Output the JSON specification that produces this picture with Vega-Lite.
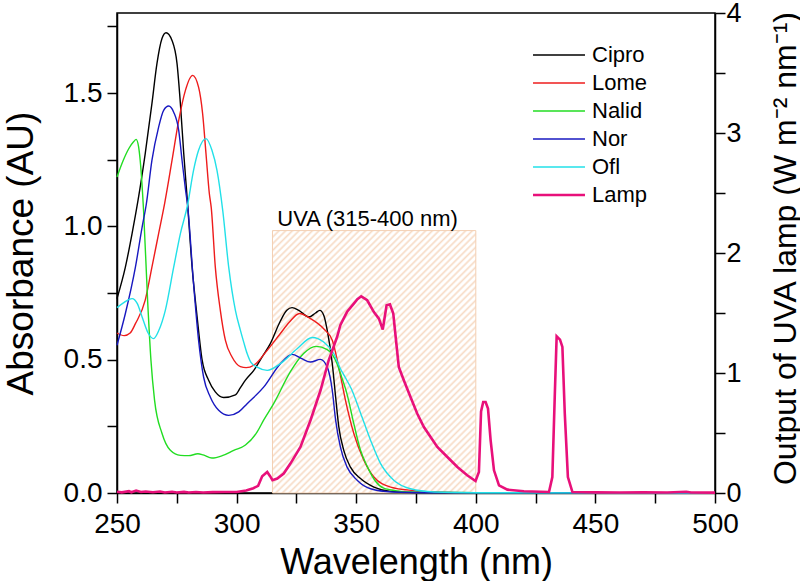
{
  "$schema": "https://vega.github.io/schema/vega-lite/v6.json",
  "width": 598,
  "height": 480,
  "autosize": {"type": "none"},
  "padding": {"left": 117, "top": 13, "right": 85, "bottom": 88},
  "config": {
    "font": "Liberation Sans",
    "view": {"stroke": "#000", "strokeWidth": 1.5},
    "axis": {
      "grid": false, "labelFont": "Liberation Sans", "titleFont": "Liberation Sans",
      "labelColor": "#000", "titleColor": "#000", "domainColor": "#000", "tickColor": "#000",
      "domainWidth": 1.5, "tickWidth": 1.5, "titleFontWeight": "normal",
      "labelFlush": false, "labelOverlap": false, "labelBound": false
    },
    "legend": {"labelFont": "Liberation Sans", "labelColor": "#000"}
  },
  "datasets": {
    "uva": [{"w": 315, "w2": 400, "v": 0, "v2": 0.984}],
    "lab": [{"w": 317, "v": 1.0, "t": "UVA (315-400 nm)"}],
    "abs": [
      {"s":"Cipro","w":250,"v":0.729},{"s":"Cipro","w":253.5,"v":0.847},{"s":"Cipro","w":256.3,"v":0.973},{"s":"Cipro","w":258.8,"v":1.098},{"s":"Cipro","w":261.8,"v":1.273},{"s":"Cipro","w":264.6,"v":1.46},{"s":"Cipro","w":266.7,"v":1.61},{"s":"Cipro","w":268.8,"v":1.704},{"s":"Cipro","w":270.5,"v":1.726},{"s":"Cipro","w":273,"v":1.697},{"s":"Cipro","w":275.1,"v":1.61},{"s":"Cipro","w":276.5,"v":1.46},{"s":"Cipro","w":277.9,"v":1.273},{"s":"Cipro","w":279.3,"v":1.11},{"s":"Cipro","w":281.4,"v":0.847},{"s":"Cipro","w":283.5,"v":0.66},{"s":"Cipro","w":285.6,"v":0.498},{"s":"Cipro","w":288.3,"v":0.423},{"s":"Cipro","w":291.1,"v":0.379},{"s":"Cipro","w":294.6,"v":0.358},{"s":"Cipro","w":299.5,"v":0.368},{"s":"Cipro","w":301.6,"v":0.395},{"s":"Cipro","w":303.7,"v":0.423},{"s":"Cipro","w":307.2,"v":0.46},{"s":"Cipro","w":311,"v":0.515},{"s":"Cipro","w":314.1,"v":0.56},{"s":"Cipro","w":318.3,"v":0.645},{"s":"Cipro","w":321,"v":0.685},{"s":"Cipro","w":323.2,"v":0.695},{"s":"Cipro","w":326,"v":0.685},{"s":"Cipro","w":330.2,"v":0.66},{"s":"Cipro","w":333,"v":0.675},{"s":"Cipro","w":334.8,"v":0.685},{"s":"Cipro","w":336.5,"v":0.665},{"s":"Cipro","w":337.9,"v":0.61},{"s":"Cipro","w":340,"v":0.485},{"s":"Cipro","w":341.4,"v":0.36},{"s":"Cipro","w":342.7,"v":0.25},{"s":"Cipro","w":344.8,"v":0.16},{"s":"Cipro","w":347.6,"v":0.097},{"s":"Cipro","w":351.8,"v":0.054},{"s":"Cipro","w":357.4,"v":0.022},{"s":"Cipro","w":364.4,"v":0.006},{"s":"Cipro","w":375,"v":0.002},{"s":"Cipro","w":400,"v":0.001},{"s":"Cipro","w":500,"v":0.0},
      {"s":"Lome","w":250,"v":0.6},{"s":"Lome","w":253,"v":0.59},{"s":"Lome","w":255.5,"v":0.6},{"s":"Lome","w":257.7,"v":0.635},{"s":"Lome","w":261.8,"v":0.723},{"s":"Lome","w":264.6,"v":0.847},{"s":"Lome","w":267.4,"v":0.973},{"s":"Lome","w":270,"v":1.09},{"s":"Lome","w":273,"v":1.247},{"s":"Lome","w":275.8,"v":1.397},{"s":"Lome","w":278.6,"v":1.51},{"s":"Lome","w":281.6,"v":1.566},{"s":"Lome","w":284.1,"v":1.522},{"s":"Lome","w":285.8,"v":1.422},{"s":"Lome","w":287.2,"v":1.273},{"s":"Lome","w":288.6,"v":1.123},{"s":"Lome","w":289.4,"v":1.07},{"s":"Lome","w":291.1,"v":0.847},{"s":"Lome","w":293.2,"v":0.685},{"s":"Lome","w":295.3,"v":0.573},{"s":"Lome","w":298.1,"v":0.51},{"s":"Lome","w":301.6,"v":0.474},{"s":"Lome","w":304,"v":0.47},{"s":"Lome","w":307.2,"v":0.479},{"s":"Lome","w":312.8,"v":0.535},{"s":"Lome","w":318.3,"v":0.598},{"s":"Lome","w":322,"v":0.64},{"s":"Lome","w":326.3,"v":0.673},{"s":"Lome","w":330.9,"v":0.654},{"s":"Lome","w":336.4,"v":0.616},{"s":"Lome","w":340,"v":0.573},{"s":"Lome","w":342.7,"v":0.472},{"s":"Lome","w":345.5,"v":0.348},{"s":"Lome","w":349,"v":0.223},{"s":"Lome","w":353.2,"v":0.123},{"s":"Lome","w":357.4,"v":0.06},{"s":"Lome","w":364.4,"v":0.022},{"s":"Lome","w":374,"v":0.009},{"s":"Lome","w":385,"v":0.003},{"s":"Lome","w":400,"v":0.001},{"s":"Lome","w":500,"v":0.0},
      {"s":"Nalid","w":250,"v":1.185},{"s":"Nalid","w":252.5,"v":1.245},{"s":"Nalid","w":254.9,"v":1.291},{"s":"Nalid","w":257,"v":1.318},{"s":"Nalid","w":258,"v":1.326},{"s":"Nalid","w":259,"v":1.3},{"s":"Nalid","w":259.7,"v":1.247},{"s":"Nalid","w":261.1,"v":1.06},{"s":"Nalid","w":262.8,"v":0.722},{"s":"Nalid","w":264.2,"v":0.497},{"s":"Nalid","w":265.7,"v":0.348},{"s":"Nalid","w":268.8,"v":0.224},{"s":"Nalid","w":272.3,"v":0.16},{"s":"Nalid","w":276.5,"v":0.141},{"s":"Nalid","w":280,"v":0.14},{"s":"Nalid","w":283.8,"v":0.147},{"s":"Nalid","w":286,"v":0.143},{"s":"Nalid","w":289.7,"v":0.131},{"s":"Nalid","w":294,"v":0.14},{"s":"Nalid","w":298.8,"v":0.16},{"s":"Nalid","w":303.7,"v":0.18},{"s":"Nalid","w":308.6,"v":0.229},{"s":"Nalid","w":311.3,"v":0.273},{"s":"Nalid","w":315.5,"v":0.335},{"s":"Nalid","w":322.5,"v":0.455},{"s":"Nalid","w":328,"v":0.523},{"s":"Nalid","w":333.2,"v":0.55},{"s":"Nalid","w":337.9,"v":0.538},{"s":"Nalid","w":342,"v":0.485},{"s":"Nalid","w":343.4,"v":0.448},{"s":"Nalid","w":346.2,"v":0.37},{"s":"Nalid","w":349,"v":0.26},{"s":"Nalid","w":351.8,"v":0.16},{"s":"Nalid","w":354.6,"v":0.1},{"s":"Nalid","w":358,"v":0.045},{"s":"Nalid","w":361.5,"v":0.018},{"s":"Nalid","w":367,"v":0.008},{"s":"Nalid","w":375,"v":0.003},{"s":"Nalid","w":400,"v":0.001},{"s":"Nalid","w":500,"v":0.0},
      {"s":"Nor","w":250,"v":0.554},{"s":"Nor","w":253.5,"v":0.673},{"s":"Nor","w":257.7,"v":0.847},{"s":"Nor","w":260.5,"v":0.997},{"s":"Nor","w":262.2,"v":1.08},{"s":"Nor","w":264.6,"v":1.247},{"s":"Nor","w":267.4,"v":1.372},{"s":"Nor","w":269.5,"v":1.435},{"s":"Nor","w":271.6,"v":1.451},{"s":"Nor","w":273.7,"v":1.428},{"s":"Nor","w":275.8,"v":1.36},{"s":"Nor","w":277.2,"v":1.247},{"s":"Nor","w":278.6,"v":1.14},{"s":"Nor","w":279.5,"v":1.08},{"s":"Nor","w":282,"v":0.785},{"s":"Nor","w":284.1,"v":0.573},{"s":"Nor","w":286.2,"v":0.435},{"s":"Nor","w":289,"v":0.36},{"s":"Nor","w":292.5,"v":0.31},{"s":"Nor","w":296.7,"v":0.291},{"s":"Nor","w":300.9,"v":0.304},{"s":"Nor","w":304.4,"v":0.335},{"s":"Nor","w":311.3,"v":0.397},{"s":"Nor","w":318.3,"v":0.485},{"s":"Nor","w":323.2,"v":0.52},{"s":"Nor","w":327,"v":0.505},{"s":"Nor","w":330.9,"v":0.491},{"s":"Nor","w":335,"v":0.501},{"s":"Nor","w":337.9,"v":0.472},{"s":"Nor","w":340,"v":0.385},{"s":"Nor","w":341.4,"v":0.273},{"s":"Nor","w":343.4,"v":0.172},{"s":"Nor","w":346.2,"v":0.097},{"s":"Nor","w":350.4,"v":0.048},{"s":"Nor","w":356,"v":0.016},{"s":"Nor","w":365,"v":0.004},{"s":"Nor","w":380,"v":0.001},{"s":"Nor","w":500,"v":0.0},
      {"s":"Ofl","w":250,"v":0.695},{"s":"Ofl","w":253,"v":0.715},{"s":"Ofl","w":256.3,"v":0.729},{"s":"Ofl","w":258.5,"v":0.71},{"s":"Ofl","w":260.5,"v":0.66},{"s":"Ofl","w":263,"v":0.6},{"s":"Ofl","w":265.3,"v":0.579},{"s":"Ofl","w":267.5,"v":0.61},{"s":"Ofl","w":270.2,"v":0.685},{"s":"Ofl","w":273.7,"v":0.847},{"s":"Ofl","w":276.5,"v":0.973},{"s":"Ofl","w":279.5,"v":1.08},{"s":"Ofl","w":282,"v":1.21},{"s":"Ofl","w":284.1,"v":1.285},{"s":"Ofl","w":287.2,"v":1.329},{"s":"Ofl","w":289.7,"v":1.285},{"s":"Ofl","w":291.8,"v":1.21},{"s":"Ofl","w":294.2,"v":1.06},{"s":"Ofl","w":296.7,"v":0.847},{"s":"Ofl","w":299.5,"v":0.685},{"s":"Ofl","w":301.6,"v":0.61},{"s":"Ofl","w":303,"v":0.565},{"s":"Ofl","w":304.4,"v":0.523},{"s":"Ofl","w":306,"v":0.49},{"s":"Ofl","w":308.6,"v":0.472},{"s":"Ofl","w":312.8,"v":0.46},{"s":"Ofl","w":318.3,"v":0.485},{"s":"Ofl","w":325.3,"v":0.541},{"s":"Ofl","w":331.6,"v":0.583},{"s":"Ofl","w":336.4,"v":0.566},{"s":"Ofl","w":340.6,"v":0.523},{"s":"Ofl","w":343.4,"v":0.466},{"s":"Ofl","w":345,"v":0.44},{"s":"Ofl","w":348,"v":0.39},{"s":"Ofl","w":351.8,"v":0.3},{"s":"Ofl","w":356,"v":0.198},{"s":"Ofl","w":360.2,"v":0.11},{"s":"Ofl","w":365.7,"v":0.048},{"s":"Ofl","w":372.7,"v":0.016},{"s":"Ofl","w":382.5,"v":0.004},{"s":"Ofl","w":400,"v":0.001},{"s":"Ofl","w":500,"v":0.0}
    ],
    "lamp": [
      {"s":"Lamp","w":250,"L":0.01},{"s":"Lamp","w":252,"L":0.005},{"s":"Lamp","w":255,"L":0.015},{"s":"Lamp","w":256,"L":0.006},{"s":"Lamp","w":258,"L":0.02},{"s":"Lamp","w":260,"L":0.008},{"s":"Lamp","w":262,"L":0.012},{"s":"Lamp","w":265,"L":0.006},{"s":"Lamp","w":268,"L":0.012},{"s":"Lamp","w":270,"L":0.004},{"s":"Lamp","w":273,"L":0.01},{"s":"Lamp","w":275,"L":0.004},{"s":"Lamp","w":278,"L":0.009},{"s":"Lamp","w":280,"L":0.004},{"s":"Lamp","w":283,"L":0.008},{"s":"Lamp","w":286,"L":0.004},{"s":"Lamp","w":290,"L":0.007},{"s":"Lamp","w":295,"L":0.008},{"s":"Lamp","w":300,"L":0.008},{"s":"Lamp","w":304,"L":0.02},{"s":"Lamp","w":307,"L":0.04},{"s":"Lamp","w":309,"L":0.06},{"s":"Lamp","w":310.7,"L":0.14},{"s":"Lamp","w":312.8,"L":0.175},{"s":"Lamp","w":314,"L":0.14},{"s":"Lamp","w":315,"L":0.106},{"s":"Lamp","w":317,"L":0.12},{"s":"Lamp","w":319.7,"L":0.162},{"s":"Lamp","w":322.5,"L":0.245},{"s":"Lamp","w":326.7,"L":0.383},{"s":"Lamp","w":330.9,"L":0.606},{"s":"Lamp","w":335.1,"L":0.856},{"s":"Lamp","w":338.5,"L":1.106},{"s":"Lamp","w":342,"L":1.3},{"s":"Lamp","w":343.4,"L":1.4},{"s":"Lamp","w":346.2,"L":1.51},{"s":"Lamp","w":349,"L":1.578},{"s":"Lamp","w":350.5,"L":1.615},{"s":"Lamp","w":352.1,"L":1.639},{"s":"Lamp","w":354.6,"L":1.606},{"s":"Lamp","w":357.4,"L":1.508},{"s":"Lamp","w":359.5,"L":1.453},{"s":"Lamp","w":361.1,"L":1.362},{"s":"Lamp","w":362.7,"L":1.564},{"s":"Lamp","w":364.1,"L":1.572},{"s":"Lamp","w":365.5,"L":1.495},{"s":"Lamp","w":366.5,"L":1.3},{"s":"Lamp","w":367.8,"L":1.05},{"s":"Lamp","w":369.9,"L":0.939},{"s":"Lamp","w":372.7,"L":0.8},{"s":"Lamp","w":375.5,"L":0.662},{"s":"Lamp","w":378.3,"L":0.55},{"s":"Lamp","w":381.1,"L":0.467},{"s":"Lamp","w":383.9,"L":0.383},{"s":"Lamp","w":388.1,"L":0.3},{"s":"Lamp","w":392.3,"L":0.217},{"s":"Lamp","w":396.4,"L":0.148},{"s":"Lamp","w":399.9,"L":0.1},{"s":"Lamp","w":401.3,"L":0.175},{"s":"Lamp","w":402.2,"L":0.68},{"s":"Lamp","w":403.1,"L":0.758},{"s":"Lamp","w":404.1,"L":0.758},{"s":"Lamp","w":405.1,"L":0.703},{"s":"Lamp","w":406.2,"L":0.439},{"s":"Lamp","w":407.6,"L":0.189},{"s":"Lamp","w":409.7,"L":0.064},{"s":"Lamp","w":413.2,"L":0.028},{"s":"Lamp","w":420.1,"L":0.014},{"s":"Lamp","w":430.6,"L":0.008},{"s":"Lamp","w":432,"L":0.133},{"s":"Lamp","w":433,"L":0.8},{"s":"Lamp","w":433.8,"L":1.306},{"s":"Lamp","w":435.2,"L":1.278},{"s":"Lamp","w":436.2,"L":1.217},{"s":"Lamp","w":437.2,"L":0.662},{"s":"Lamp","w":438.5,"L":0.133},{"s":"Lamp","w":440.4,"L":0.008},{"s":"Lamp","w":450,"L":0.005},{"s":"Lamp","w":460,"L":0.004},{"s":"Lamp","w":470,"L":0.005},{"s":"Lamp","w":480,"L":0.004},{"s":"Lamp","w":488,"L":0.01},{"s":"Lamp","w":490,"L":0.004},{"s":"Lamp","w":500,"L":0.003}
    ]
  },
  "layer": [
    {
      "data": {"name": "uva"},
      "mark": {
        "type": "rect", "stroke": "#f3cfb2", "strokeWidth": 1,
        "fill": {
          "gradient": "linear", "x1": 0, "y1": 0, "x2": 0.857, "y2": 1.11,
          "stops": [
            {"offset":0,"color":"#f7dbc5"},{"offset":0.005,"color":"#ffffff"},{"offset":0.0093,"color":"#ffffff"},
            {"offset":0.0143,"color":"#f7dbc5"},{"offset":0.0193,"color":"#ffffff"},{"offset":0.0236,"color":"#ffffff"},
            {"offset":0.0286,"color":"#f7dbc5"},{"offset":0.0336,"color":"#ffffff"},{"offset":0.0379,"color":"#ffffff"},
            {"offset":0.0429,"color":"#f7dbc5"},{"offset":0.0479,"color":"#ffffff"},{"offset":0.0521,"color":"#ffffff"},
            {"offset":0.0571,"color":"#f7dbc5"},{"offset":0.0621,"color":"#ffffff"},{"offset":0.0664,"color":"#ffffff"},
            {"offset":0.0714,"color":"#f7dbc5"},{"offset":0.0764,"color":"#ffffff"},{"offset":0.0807,"color":"#ffffff"},
            {"offset":0.0857,"color":"#f7dbc5"},{"offset":0.0907,"color":"#ffffff"},{"offset":0.095,"color":"#ffffff"},
            {"offset":0.1,"color":"#f7dbc5"},{"offset":0.105,"color":"#ffffff"},{"offset":0.1093,"color":"#ffffff"},
            {"offset":0.1143,"color":"#f7dbc5"},{"offset":0.1193,"color":"#ffffff"},{"offset":0.1236,"color":"#ffffff"},
            {"offset":0.1286,"color":"#f7dbc5"},{"offset":0.1336,"color":"#ffffff"},{"offset":0.1379,"color":"#ffffff"},
            {"offset":0.1429,"color":"#f7dbc5"},{"offset":0.1479,"color":"#ffffff"},{"offset":0.1521,"color":"#ffffff"},
            {"offset":0.1571,"color":"#f7dbc5"},{"offset":0.1621,"color":"#ffffff"},{"offset":0.1664,"color":"#ffffff"},
            {"offset":0.1714,"color":"#f7dbc5"},{"offset":0.1764,"color":"#ffffff"},{"offset":0.1807,"color":"#ffffff"},
            {"offset":0.1857,"color":"#f7dbc5"},{"offset":0.1907,"color":"#ffffff"},{"offset":0.195,"color":"#ffffff"},
            {"offset":0.2,"color":"#f7dbc5"},{"offset":0.205,"color":"#ffffff"},{"offset":0.2093,"color":"#ffffff"},
            {"offset":0.2143,"color":"#f7dbc5"},{"offset":0.2193,"color":"#ffffff"},{"offset":0.2236,"color":"#ffffff"},
            {"offset":0.2286,"color":"#f7dbc5"},{"offset":0.2336,"color":"#ffffff"},{"offset":0.2379,"color":"#ffffff"},
            {"offset":0.2429,"color":"#f7dbc5"},{"offset":0.2479,"color":"#ffffff"},{"offset":0.2521,"color":"#ffffff"},
            {"offset":0.2571,"color":"#f7dbc5"},{"offset":0.2621,"color":"#ffffff"},{"offset":0.2664,"color":"#ffffff"},
            {"offset":0.2714,"color":"#f7dbc5"},{"offset":0.2764,"color":"#ffffff"},{"offset":0.2807,"color":"#ffffff"},
            {"offset":0.2857,"color":"#f7dbc5"},{"offset":0.2907,"color":"#ffffff"},{"offset":0.295,"color":"#ffffff"},
            {"offset":0.3,"color":"#f7dbc5"},{"offset":0.305,"color":"#ffffff"},{"offset":0.3093,"color":"#ffffff"},
            {"offset":0.3143,"color":"#f7dbc5"},{"offset":0.3193,"color":"#ffffff"},{"offset":0.3236,"color":"#ffffff"},
            {"offset":0.3286,"color":"#f7dbc5"},{"offset":0.3336,"color":"#ffffff"},{"offset":0.3379,"color":"#ffffff"},
            {"offset":0.3429,"color":"#f7dbc5"},{"offset":0.3479,"color":"#ffffff"},{"offset":0.3521,"color":"#ffffff"},
            {"offset":0.3571,"color":"#f7dbc5"},{"offset":0.3621,"color":"#ffffff"},{"offset":0.3664,"color":"#ffffff"},
            {"offset":0.3714,"color":"#f7dbc5"},{"offset":0.3764,"color":"#ffffff"},{"offset":0.3807,"color":"#ffffff"},
            {"offset":0.3857,"color":"#f7dbc5"},{"offset":0.3907,"color":"#ffffff"},{"offset":0.395,"color":"#ffffff"},
            {"offset":0.4,"color":"#f7dbc5"},{"offset":0.405,"color":"#ffffff"},{"offset":0.4093,"color":"#ffffff"},
            {"offset":0.4143,"color":"#f7dbc5"},{"offset":0.4193,"color":"#ffffff"},{"offset":0.4236,"color":"#ffffff"},
            {"offset":0.4286,"color":"#f7dbc5"},{"offset":0.4336,"color":"#ffffff"},{"offset":0.4379,"color":"#ffffff"},
            {"offset":0.4429,"color":"#f7dbc5"},{"offset":0.4479,"color":"#ffffff"},{"offset":0.4521,"color":"#ffffff"},
            {"offset":0.4571,"color":"#f7dbc5"},{"offset":0.4621,"color":"#ffffff"},{"offset":0.4664,"color":"#ffffff"},
            {"offset":0.4714,"color":"#f7dbc5"},{"offset":0.4764,"color":"#ffffff"},{"offset":0.4807,"color":"#ffffff"},
            {"offset":0.4857,"color":"#f7dbc5"},{"offset":0.4907,"color":"#ffffff"},{"offset":0.495,"color":"#ffffff"},
            {"offset":0.5,"color":"#f7dbc5"},{"offset":0.505,"color":"#ffffff"},{"offset":0.5093,"color":"#ffffff"},
            {"offset":0.5143,"color":"#f7dbc5"},{"offset":0.5193,"color":"#ffffff"},{"offset":0.5236,"color":"#ffffff"},
            {"offset":0.5286,"color":"#f7dbc5"},{"offset":0.5336,"color":"#ffffff"},{"offset":0.5379,"color":"#ffffff"},
            {"offset":0.5429,"color":"#f7dbc5"},{"offset":0.5479,"color":"#ffffff"},{"offset":0.5521,"color":"#ffffff"},
            {"offset":0.5571,"color":"#f7dbc5"},{"offset":0.5621,"color":"#ffffff"},{"offset":0.5664,"color":"#ffffff"},
            {"offset":0.5714,"color":"#f7dbc5"},{"offset":0.5764,"color":"#ffffff"},{"offset":0.5807,"color":"#ffffff"},
            {"offset":0.5857,"color":"#f7dbc5"},{"offset":0.5907,"color":"#ffffff"},{"offset":0.595,"color":"#ffffff"},
            {"offset":0.6,"color":"#f7dbc5"},{"offset":0.605,"color":"#ffffff"},{"offset":0.6093,"color":"#ffffff"},
            {"offset":0.6143,"color":"#f7dbc5"},{"offset":0.6193,"color":"#ffffff"},{"offset":0.6236,"color":"#ffffff"},
            {"offset":0.6286,"color":"#f7dbc5"},{"offset":0.6336,"color":"#ffffff"},{"offset":0.6379,"color":"#ffffff"},
            {"offset":0.6429,"color":"#f7dbc5"},{"offset":0.6479,"color":"#ffffff"},{"offset":0.6521,"color":"#ffffff"},
            {"offset":0.6571,"color":"#f7dbc5"},{"offset":0.6621,"color":"#ffffff"},{"offset":0.6664,"color":"#ffffff"},
            {"offset":0.6714,"color":"#f7dbc5"},{"offset":0.6764,"color":"#ffffff"},{"offset":0.6807,"color":"#ffffff"},
            {"offset":0.6857,"color":"#f7dbc5"},{"offset":0.6907,"color":"#ffffff"},{"offset":0.695,"color":"#ffffff"},
            {"offset":0.7,"color":"#f7dbc5"},{"offset":0.705,"color":"#ffffff"},{"offset":0.7093,"color":"#ffffff"},
            {"offset":0.7143,"color":"#f7dbc5"},{"offset":0.7193,"color":"#ffffff"},{"offset":0.7236,"color":"#ffffff"},
            {"offset":0.7286,"color":"#f7dbc5"},{"offset":0.7336,"color":"#ffffff"},{"offset":0.7379,"color":"#ffffff"},
            {"offset":0.7429,"color":"#f7dbc5"},{"offset":0.7479,"color":"#ffffff"},{"offset":0.7521,"color":"#ffffff"},
            {"offset":0.7571,"color":"#f7dbc5"},{"offset":0.7621,"color":"#ffffff"},{"offset":0.7664,"color":"#ffffff"},
            {"offset":0.7714,"color":"#f7dbc5"},{"offset":0.7764,"color":"#ffffff"},{"offset":0.7807,"color":"#ffffff"},
            {"offset":0.7857,"color":"#f7dbc5"},{"offset":0.7907,"color":"#ffffff"},{"offset":0.795,"color":"#ffffff"},
            {"offset":0.8,"color":"#f7dbc5"},{"offset":0.805,"color":"#ffffff"},{"offset":0.8093,"color":"#ffffff"},
            {"offset":0.8143,"color":"#f7dbc5"},{"offset":0.8193,"color":"#ffffff"},{"offset":0.8236,"color":"#ffffff"},
            {"offset":0.8286,"color":"#f7dbc5"},{"offset":0.8336,"color":"#ffffff"},{"offset":0.8379,"color":"#ffffff"},
            {"offset":0.8429,"color":"#f7dbc5"},{"offset":0.8479,"color":"#ffffff"},{"offset":0.8521,"color":"#ffffff"},
            {"offset":0.8571,"color":"#f7dbc5"},{"offset":0.8621,"color":"#ffffff"},{"offset":0.8664,"color":"#ffffff"},
            {"offset":0.8714,"color":"#f7dbc5"},{"offset":0.8764,"color":"#ffffff"},{"offset":0.8807,"color":"#ffffff"},
            {"offset":0.8857,"color":"#f7dbc5"},{"offset":0.8907,"color":"#ffffff"},{"offset":0.895,"color":"#ffffff"},
            {"offset":0.9,"color":"#f7dbc5"},{"offset":0.905,"color":"#ffffff"},{"offset":0.9093,"color":"#ffffff"},
            {"offset":0.9143,"color":"#f7dbc5"},{"offset":0.9193,"color":"#ffffff"},{"offset":0.9236,"color":"#ffffff"},
            {"offset":0.9286,"color":"#f7dbc5"},{"offset":0.9336,"color":"#ffffff"},{"offset":0.9379,"color":"#ffffff"},
            {"offset":0.9429,"color":"#f7dbc5"},{"offset":0.9479,"color":"#ffffff"},{"offset":0.9521,"color":"#ffffff"},
            {"offset":0.9571,"color":"#f7dbc5"},{"offset":0.9621,"color":"#ffffff"},{"offset":0.9664,"color":"#ffffff"},
            {"offset":0.9714,"color":"#f7dbc5"},{"offset":0.9764,"color":"#ffffff"},{"offset":0.9807,"color":"#ffffff"},
            {"offset":0.9857,"color":"#f7dbc5"},{"offset":0.9907,"color":"#ffffff"},{"offset":0.995,"color":"#ffffff"},
            {"offset":1,"color":"#f7dbc5"}
          ]
        }
      },
      "encoding": {
        "x": {"field": "w", "type": "quantitative", "scale": {"domain": [250, 500], "nice": false, "zero": false}},
        "x2": {"field": "w2"},
        "y": {"field": "v", "type": "quantitative", "scale": {"domain": [0, 1.8], "nice": false, "zero": false}, "axis": null},
        "y2": {"field": "v2"}
      }
    },
    {
      "data": {"name": "lab"},
      "mark": {"type": "text", "align": "left", "baseline": "alphabetic", "fontSize": 22, "font": "Liberation Sans", "color": "#000"},
      "encoding": {
        "x": {"field": "w", "type": "quantitative"},
        "y": {"field": "v", "type": "quantitative", "scale": {"domain": [0, 1.8], "nice": false, "zero": false}, "axis": null},
        "text": {"field": "t"}
      }
    },
    {
      "data": {"name": "abs"},
      "mark": {"type": "line", "strokeWidth": 1.4, "interpolate": "monotone"},
      "encoding": {
        "x": {
          "field": "w", "type": "quantitative", "scale": {"domain": [250, 500], "nice": false, "zero": false},
          "axis": {
            "orient": "bottom",
            "title": "Wavelength (nm)", "titleFontSize": 36, "titleBaseline": "alphabetic", "titleX": 299, "titleY": 80,
            "values": [250, 275, 300, 325, 350, 375, 400, 425, 450, 475, 500],
            "labelExpr": "datum.value % 50 === 0 ? datum.label : ''",
            "labelFontSize": 28, "tickSize": 10, "labelPadding": 7,
            "encode": {"ticks": {"update": {"y2": {"signal": "datum.value % 50 === 0 ? 10 : 5"}}}}
          }
        },
        "y": {
          "field": "v", "type": "quantitative", "scale": {"domain": [0, 1.8], "nice": false, "zero": false},
          "axis": {
            "orient": "left",
            "title": "Absorbance (AU)", "titleFontSize": 37, "titleAngle": -90, "titleBaseline": "alphabetic", "titleAlign": "center", "titleX": -85, "titleY": 240,
            "values": [0, 0.25, 0.5, 0.75, 1, 1.25, 1.5, 1.75],
            "labelExpr": "abs(datum.value*2 - round(datum.value*2)) < 0.001 ? format(datum.value, '.1f') : ''",
            "labelFontSize": 28, "tickSize": 10, "labelPadding": 5,
            "encode": {"ticks": {"update": {"x2": {"signal": "abs(datum.value*2 - round(datum.value*2)) < 0.001 ? -10 : -5"}}}}
          }
        },
        "color": {
          "field": "s", "type": "nominal",
          "scale": {"domain": ["Cipro", "Lome", "Nalid", "Nor", "Ofl", "Lamp"], "range": ["#000000", "#ee1c1c", "#22dd22", "#1818c0", "#22e0e8", "#e8107a"]},
          "legend": {
            "title": null, "orient": "none", "legendX": 431, "legendY": 31,
            "symbolType": "M-3,0H3", "symbolSize": 300, "symbolStrokeWidth": 1.6, "symbolFillColor": "transparent",
            "labelFontSize": 22, "labelOffset": 22, "rowPadding": 6,
            "encode": {"symbols": {"update": {"strokeWidth": {"signal": "datum.value === 'Lamp' ? 2.6 : 1.5"}, "fill": {"value": "transparent"}}}}
          }
        }
      }
    },
    {
      "data": {"name": "lamp"},
      "mark": {"type": "line", "strokeWidth": 2.6, "interpolate": "linear"},
      "encoding": {
        "x": {"field": "w", "type": "quantitative", "scale": {"domain": [250, 500], "nice": false, "zero": false}},
        "y": {
          "field": "L", "type": "quantitative", "scale": {"domain": [0, 4], "nice": false, "zero": false},
          "axis": {
            "orient": "right",
            "title": "Output of UVA lamp (W m⁻² nm⁻¹)", "titleFontSize": 32, "titleAngle": -90, "titleBaseline": "alphabetic", "titleAlign": "center", "titleX": 80, "titleY": 235,
            "values": [0, 0.5, 1, 1.5, 2, 2.5, 3, 3.5, 4],
            "labelExpr": "datum.value % 1 === 0 ? format(datum.value, 'd') : ''",
            "labelFontSize": 27, "tickSize": 10, "labelPadding": 1,
            "encode": {"ticks": {"update": {"x2": {"signal": "datum.value % 1 === 0 ? -10 : -5"}}}}
          }
        },
        "color": {"field": "s", "type": "nominal"}
      }
    }
  ],
  "resolve": {"scale": {"y": "independent"}}
}
